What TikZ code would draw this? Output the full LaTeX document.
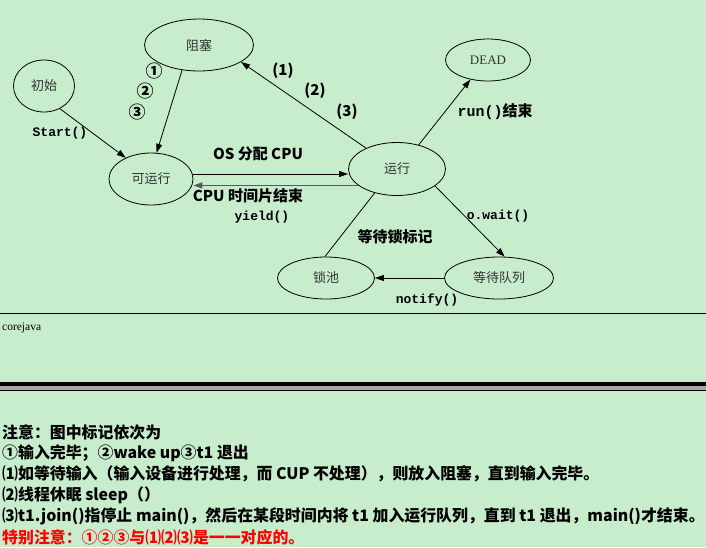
\documentclass[tikz,border=0pt]{standalone}
\usepackage{fontspec}
\newfontfamily\cjk{Noto Sans CJK SC}
\newfontfamily\mono{Liberation Mono}
\newfontfamily\serif{Liberation Serif}
\usetikzlibrary{arrows.meta,shapes.geometric}
\definecolor{bggreen}{RGB}{199,237,204}

\begin{document}
\begin{tikzpicture}[x=1pt, y=-1pt,
  state/.style={draw, ellipse, inner sep=0pt, line width=0.8pt, font=\cjk\fontsize{13}{13}\selectfont, text=black!80},
  lbl/.style={font=\cjk\bfseries\fontsize{15}{15}\selectfont, inner sep=0pt},
  circ/.style={font=\cjk\bfseries\fontsize{17}{17}\selectfont, inner sep=0pt},
  code/.style={font=\mono\bfseries\fontsize{13}{13}\selectfont, inner sep=0pt},
  arr/.style={-{Triangle[length=9pt,width=6pt]}, line width=0.8pt},
  note/.style={anchor=west, font=\cjk\bfseries\fontsize{15.9}{15.9}\selectfont, inner sep=0pt}
]
\fill[bggreen] (0,0) rectangle (706,547);
\useasboundingbox (0,0) rectangle (706,547);

\node[state, minimum width=61pt, minimum height=52pt] (cs) at (44,86) {初始};
\node[state, minimum width=109pt, minimum height=52pt] (zs) at (199,45) {阻塞};
\node[state, minimum width=84pt, minimum height=52pt] (kyx) at (151,179) {可运行};
\node[state, minimum width=97pt, minimum height=53pt] (yx) at (397,169) {运行};
\node[state, minimum width=85pt, minimum height=42pt] (dead) at (488,60) {\serif DEAD};
\node[state, minimum width=109pt, minimum height=42pt] (ddl) at (499,278) {等待队列};
\node[state, minimum width=97pt, minimum height=42pt] (sc) at (326,278) {锁池};

\draw[arr] (cs.-55) -- (kyx.140);
\draw[arr] (zs.-124) -- (kyx.78);
\draw[arr] (yx.146) -- (zs.-22);
\draw[arr] ([yshift=5pt]kyx.east) -- ([yshift=-5pt]yx.west);
\draw[arr, draw=black!65, line width=1.2pt] (yx.203) -- (yx.203 -| kyx.east);
\draw[arr] (yx.48) -- (dead.228);
\draw[arr] (yx.-24) -- (ddl.75);
\draw[line width=0.8pt] (yx.-133) -- (sc.93);
\draw[arr] (ddl.west) -- (sc.east);

\node[code] (l-start) at (60,133) {Start()};
\node[circ] (l-c1) at (154,71) {①};
\node[circ] (l-c2) at (145,91) {②};
\node[circ] (l-c3) at (137,112) {③};
\node[lbl] (l-p1) at (283,71) {(1)};
\node[lbl] (l-p2) at (315,91) {(2)};
\node[lbl] (l-p3) at (347,112) {(3)};
\node[lbl] (l-os) at (258,154) {OS 分配 CPU};
\node[lbl] (l-cpu) at (248,196) {CPU 时间片结束};
\node[code] (l-yield) at (262,217) {yield()};
\node[lbl] (l-run) at (495,112) {{\mono run()}结束};
\node[code] (l-wait) at (498,216) {o.wait()};
\node[lbl] (l-lock) at (395,237) {等待锁标记};
\node[code] (l-notify) at (427,300) {notify()};

\draw[line width=1pt] (0,313) -- (706,313);
\node[anchor=west, inner sep=0pt, font=\serif\fontsize{11.5}{11.5}\selectfont] (src) at (2,328) {corejava};
\fill[black] (0,382) rectangle (706,386);
\fill[black!35] (0,386) rectangle (706,390);
\fill[black] (0,390) rectangle (706,391);

\node[note] (n1) at (2,432) {注意：图中标记依次为};
\node[note] (n2) at (2,453) {①输入完毕；②wake up③t1 退出};
\node[note] (n3) at (2,474) {⑴如等待输入（输入设备进行处理，而 CUP 不处理），则放入阻塞，直到输入完毕。};
\node[note] (n4) at (2,495) {⑵线程休眠 sleep（）};
\node[note] (n5) at (2,516) {⑶t1.join()指停止 main()，然后在某段时间内将 t1 加入运行队列，直到 t1 退出，main()才结束。};
\node[note, text=red] (n6) at (2,537) {特别注意：①②③与⑴⑵⑶是一一对应的。};
\end{tikzpicture}
\end{document}
